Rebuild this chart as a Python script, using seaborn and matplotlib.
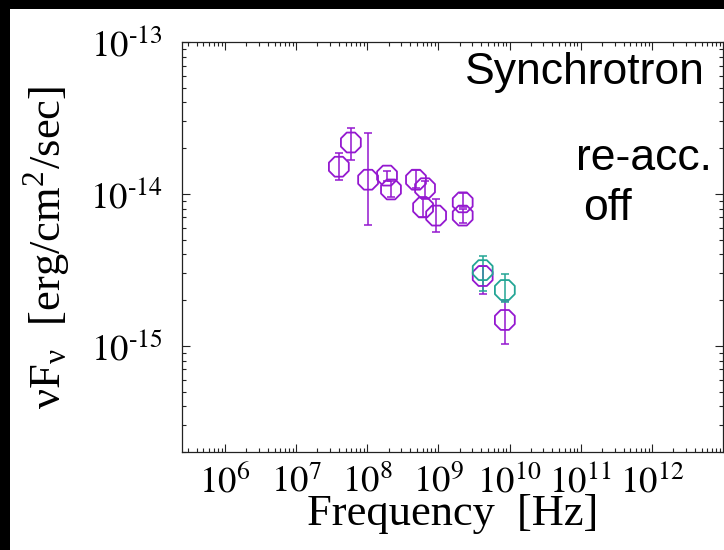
import numpy as np
import pandas as pd
import matplotlib
matplotlib.use("Agg")
import matplotlib.pyplot as plt
import seaborn as sns
from matplotlib.patches import Rectangle

# observed radio points (frequency in Hz, nuFnu in erg/cm2/s)
purple_freq = [4.0e7, 5.9e7, 1.03e8, 1.9e8, 2.16e8, 4.85e8, 6.5e8, 6.1e8, 9.3e8,
               2.2e9, 2.2e9, 4.2e9, 8.6e9]
purple_flux = [1.51e-14, 2.18e-14, 1.24e-14, 1.32e-14, 1.07e-14, 1.24e-14, 1.09e-14,
               8.15e-15, 7.2e-15, 8.8e-15, 7.2e-15, 2.88e-15, 1.48e-15]
purple_lo = [1.24e-14, 1.68e-14, 6.2e-15, 1.21e-14, 9.5e-15, 1.10e-14, 9.3e-15,
             7.1e-15, 5.6e-15, 8.15e-15, 6.4e-15, 2.19e-15, 1.03e-15]
purple_hi = [1.87e-14, 2.73e-14, 2.53e-14, 1.41e-14, 1.21e-14, 1.43e-14, 1.21e-14,
             9.5e-15, 9.3e-15, 1.02e-14, 8.0e-15, 3.35e-15, 1.97e-15]

teal_freq = [4.2e9, 8.6e9]
teal_flux = [3.15e-15, 2.33e-15]
teal_lo = [2.29e-15, 1.94e-15]
teal_hi = [3.89e-15, 2.97e-15]

x_ticks = [1e6, 1e7, 1e8, 1e9, 1e10, 1e11, 1e12]
y_ticks = [1e-15, 1e-14, 1e-13]

purple = "#9418d0"
teal = "#23a595"

sns.set_theme(style="ticks")
plt.rcParams["font.family"] = ["Liberation Serif", "DejaVu Serif"]
plt.rcParams["mathtext.fontset"] = "stix"
plt.rcParams["text.color"] = "black"

df = pd.DataFrame({
    "freq": purple_freq + teal_freq,
    "flux": purple_flux + teal_flux,
    "set": ["a"] * len(purple_freq) + ["b"] * len(teal_freq),
})

fig = plt.figure(figsize=(7.24, 5.5), dpi=100)
fig.patch.set_facecolor("black")
# white page, black strip left and top
fig.patches.append(Rectangle((10 / 724, 0), 1, 541 / 550, transform=fig.transFigure,
                             facecolor="white", edgecolor="none", zorder=-10))
ax = fig.add_axes([182 / 724, 98 / 550, 541 / 724, 410 / 550])
ax.set_xscale("log")
ax.set_yscale("log")

# error bars
for f, v, lo, hi, c in [(purple_freq, purple_flux, purple_lo, purple_hi, purple),
                        (teal_freq, teal_flux, teal_lo, teal_hi, teal)]:
    v = np.array(v)
    yerr = [v - np.array(lo), np.array(hi) - v]
    ax.errorbar(f, v, yerr=yerr, fmt="none", ecolor=c, elinewidth=1.1,
                capsize=2.8, capthick=1.1, zorder=2)

sns.scatterplot(data=df, x="freq", y="flux", hue="set", palette=[purple, teal],
                marker="8", s=240, linewidth=1.3, legend=False, ax=ax, zorder=3)
for coll in ax.collections:
    fc = coll.get_facecolors()
    if len(fc):
        coll.set_edgecolors(fc)
        coll.set_facecolors("none")

def sci(t):
    e = int(round(np.log10(t)))
    s = str(e).replace("-", r"\text{-}")
    return f"$10^{{{s}}}$"

ax.set_xlim(2.5e5, 1e13)
ax.set_ylim(2e-16, 1e-13)
ax.set_xticks(x_ticks)
ax.set_yticks(y_ticks)
ax.set_xticklabels([sci(t) for t in x_ticks])
ax.set_yticklabels([sci(t) for t in y_ticks])
ax.xaxis.set_minor_locator(matplotlib.ticker.LogLocator(base=10, subs=np.arange(2, 10), numticks=20))
ax.yaxis.set_minor_locator(matplotlib.ticker.LogLocator(base=10, subs=np.arange(2, 10), numticks=20))
ax.xaxis.set_minor_formatter(matplotlib.ticker.NullFormatter())
ax.yaxis.set_minor_formatter(matplotlib.ticker.NullFormatter())
ax.tick_params(which="both", direction="in", top=True, right=True, width=0.8, colors="#222222")
ax.tick_params(which="major", length=6, labelsize=26.5, labelcolor="black")
ax.tick_params(which="minor", length=3)
ax.tick_params(axis="x", which="major", pad=9)
ax.tick_params(axis="y", which="major", pad=14)
for sp in ax.spines.values():
    sp.set_linewidth(0.9)
    sp.set_color("#222222")

ax.set_xlabel("Frequency  [Hz]", fontsize=32, labelpad=-4, color="black")
ax.set_ylabel(r"νF$_\mathregular{ν}$  [erg/cm$^\mathregular{2}$/sec]", fontsize=32,
              labelpad=13, color="black")

sans = ["Liberation Sans", "DejaVu Sans"]
ax.text(0.967, 0.897, "Synchrotron", transform=ax.transAxes, ha="right", va="baseline",
        fontsize=32, family=sans, color="black")
ax.text(0.980, 0.688, "re-acc.", transform=ax.transAxes, ha="right", va="baseline",
        fontsize=32, family=sans, color="black")
ax.text(0.742, 0.566, "off", transform=ax.transAxes, ha="left", va="baseline",
        fontsize=32, family=sans, color="black")

fig.savefig("out.png", dpi=100, facecolor=fig.get_facecolor())
